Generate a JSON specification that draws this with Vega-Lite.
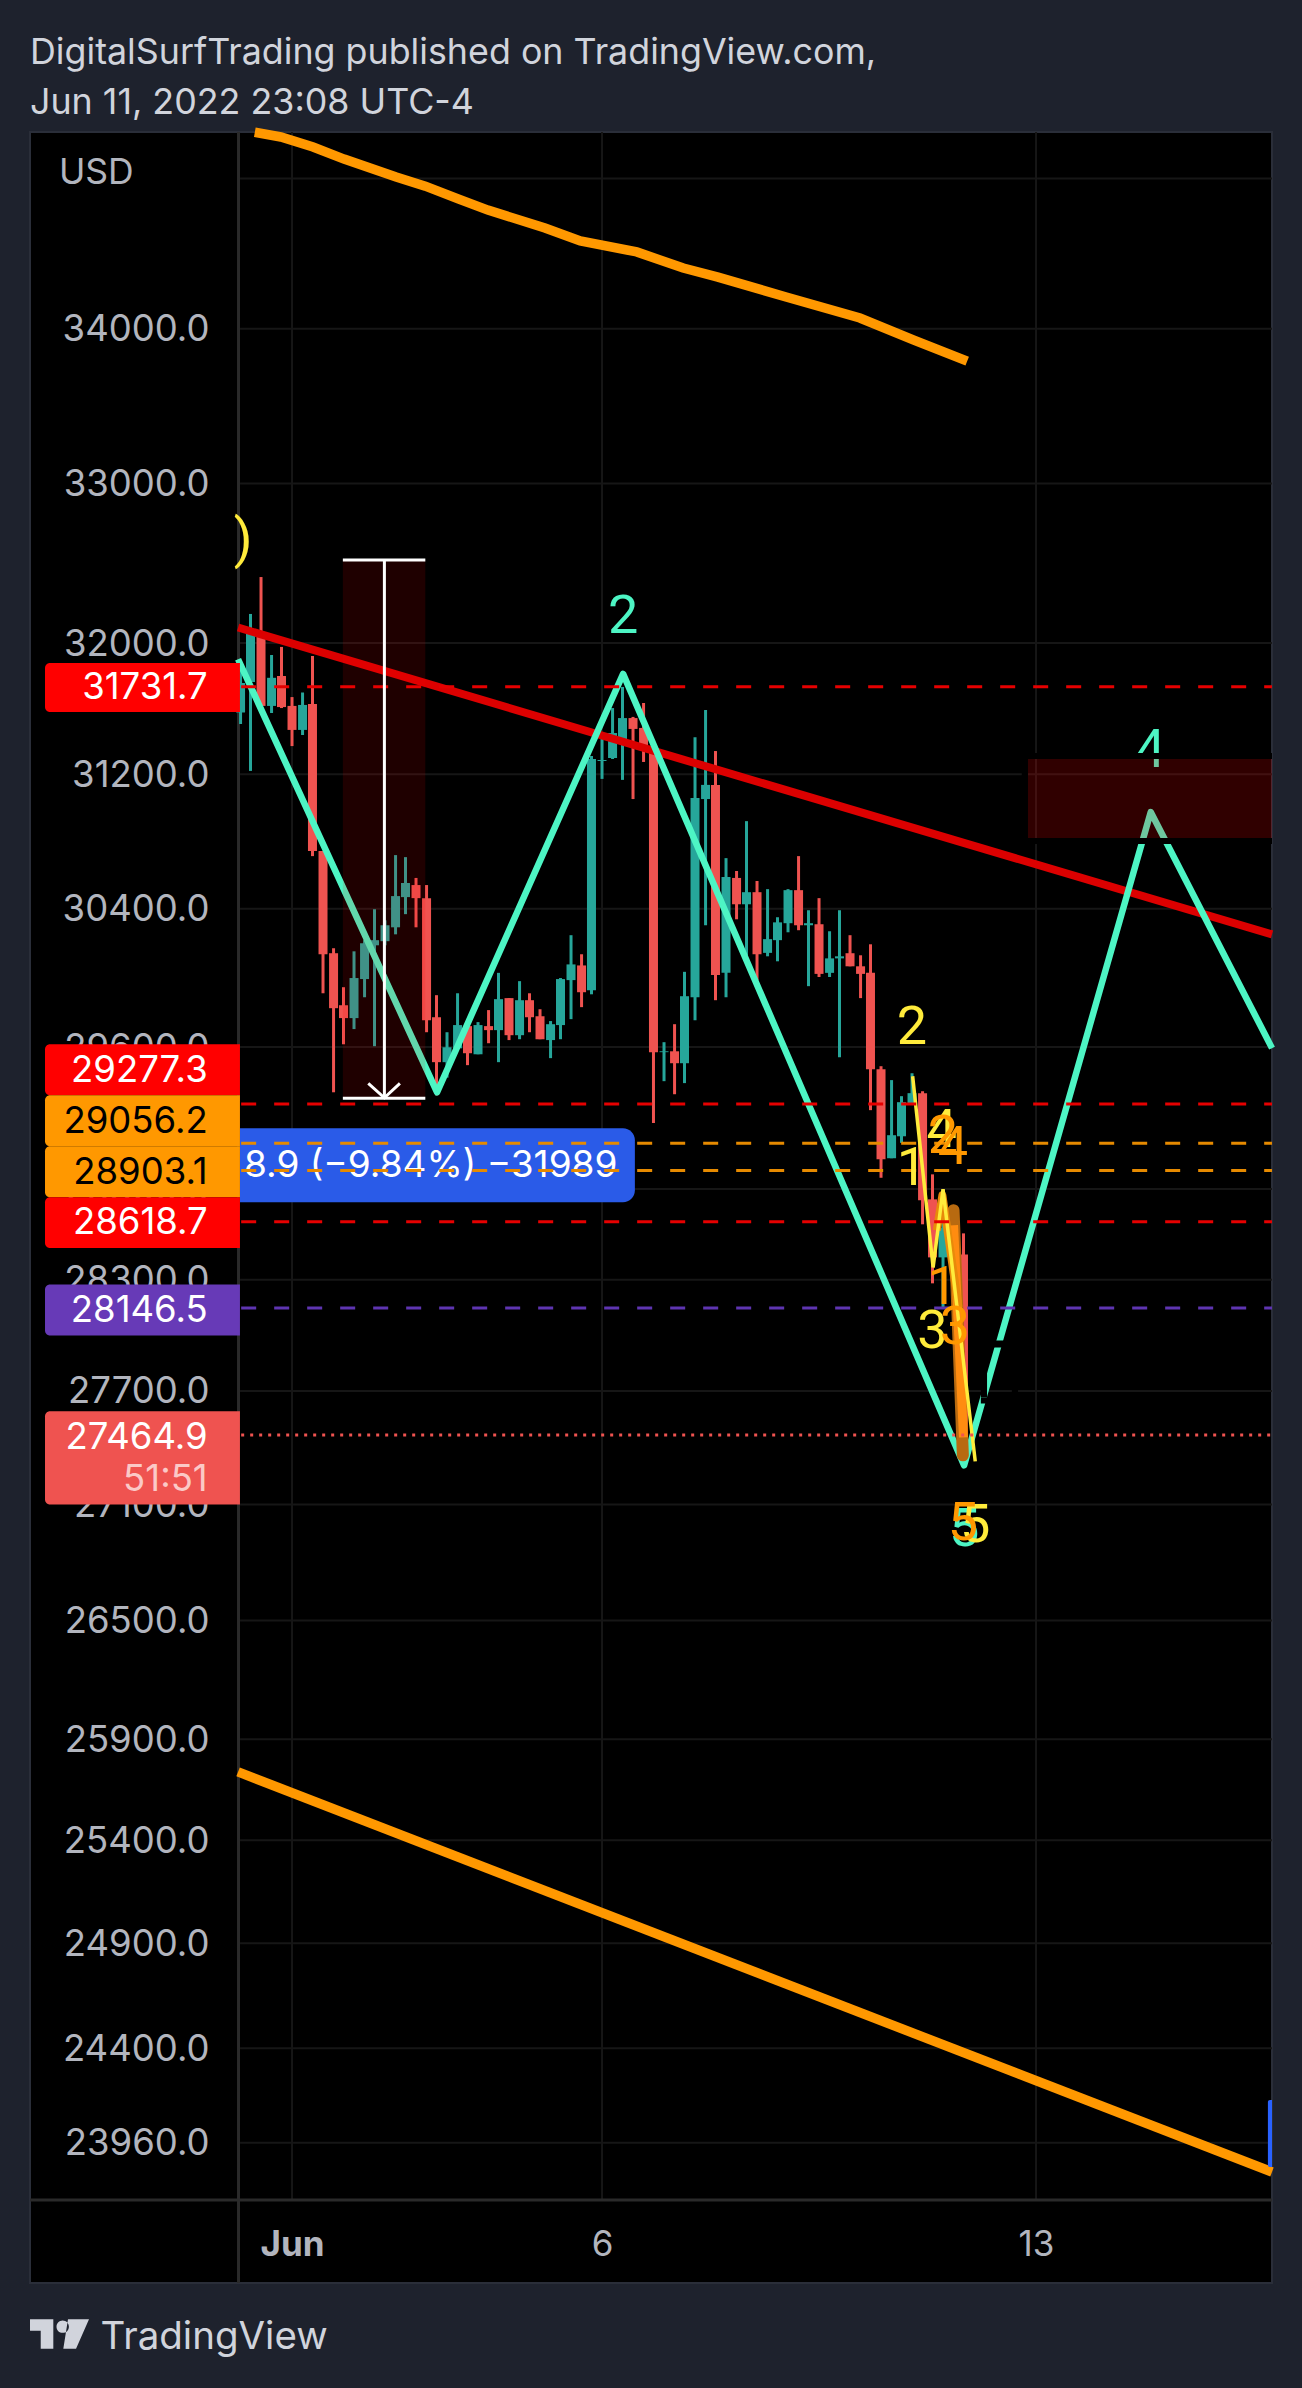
{
"$schema":"https://vega.github.io/schema/vega-lite/v6.json",
"description":"Bitcoin 4h candles with wave counts, published on TradingView.",
"width":1242,"height":2151,"autosize":"none",
"padding":{"left":30,"top":132,"right":30,"bottom":105},
"background":"#1e222d",
"view":{"fill":"#000000","stroke":"#2a2e39","strokeWidth":2},
"title":{"text":["DigitalSurfTrading published on TradingView.com,","Jun 11, 2022 23:08 UTC-4"],"anchor":"start","frame":"group","offset":-9,"fontSize":35.8,"lineHeight":50,"font":"Inter","fontWeight":400,"color":"#d1d4dc"},
"datasets":{
"gridY":[{"price":35000},{"price":34000},{"price":33000},{"price":32000},{"price":31200},{"price":30400},{"price":29600},{"price":28800},{"price":28300},{"price":27700},{"price":27100},{"price":26500},{"price":25900},{"price":25400},{"price":24900},{"price":24400},{"price":23960}],
"gridX":[{"day":1},{"day":6},{"day":13}],
"candles":[
{"day":0.17,"open":31574,"high":31877,"low":31504,"close":31754,"dir":"up"},
{"day":0.33,"open":31760,"high":32180,"low":31220,"close":32059,"dir":"up"},
{"day":0.5,"open":32045,"high":32410,"low":31614,"close":31614,"dir":"down"},
{"day":0.67,"open":31614,"high":31926,"low":31571,"close":31786,"dir":"up"},
{"day":0.83,"open":31797,"high":31976,"low":31601,"close":31607,"dir":"down"},
{"day":1.0,"open":31614,"high":31668,"low":31370,"close":31468,"dir":"down"},
{"day":1.17,"open":31468,"high":31696,"low":31437,"close":31620,"dir":"up"},
{"day":1.33,"open":31626,"high":31920,"low":30711,"close":30741,"dir":"down"},
{"day":1.5,"open":30741,"high":30741,"low":29909,"close":30135,"dir":"down"},
{"day":1.67,"open":30141,"high":30170,"low":29343,"close":29823,"dir":"down"},
{"day":1.83,"open":29840,"high":29944,"low":29616,"close":29766,"dir":"down"},
{"day":2.0,"open":29766,"high":30152,"low":29703,"close":29997,"dir":"up"},
{"day":2.17,"open":29991,"high":30217,"low":29886,"close":30199,"dir":"up"},
{"day":2.33,"open":30187,"high":30398,"low":29605,"close":30217,"dir":"up"},
{"day":2.5,"open":30211,"high":30333,"low":30187,"close":30304,"dir":"up"},
{"day":2.67,"open":30292,"high":30717,"low":30251,"close":30475,"dir":"up"},
{"day":2.83,"open":30469,"high":30705,"low":30369,"close":30552,"dir":"up"},
{"day":3.0,"open":30540,"high":30582,"low":30292,"close":30463,"dir":"down"},
{"day":3.17,"open":30463,"high":30540,"low":29685,"close":29754,"dir":"down"},
{"day":3.33,"open":29771,"high":29898,"low":29326,"close":29514,"dir":"down"},
{"day":3.5,"open":29514,"high":29685,"low":29426,"close":29599,"dir":"up"},
{"day":3.67,"open":29593,"high":29909,"low":29593,"close":29726,"dir":"up"},
{"day":3.83,"open":29720,"high":29720,"low":29497,"close":29565,"dir":"down"},
{"day":4.0,"open":29559,"high":29743,"low":29559,"close":29726,"dir":"up"},
{"day":4.17,"open":29720,"high":29812,"low":29622,"close":29697,"dir":"down"},
{"day":4.33,"open":29697,"high":30027,"low":29514,"close":29875,"dir":"up"},
{"day":4.5,"open":29881,"high":29881,"low":29640,"close":29668,"dir":"down"},
{"day":4.67,"open":29668,"high":29979,"low":29645,"close":29869,"dir":"up"},
{"day":4.83,"open":29869,"high":29909,"low":29685,"close":29771,"dir":"down"},
{"day":5.0,"open":29777,"high":29817,"low":29645,"close":29645,"dir":"down"},
{"day":5.17,"open":29640,"high":29749,"low":29537,"close":29731,"dir":"up"},
{"day":5.33,"open":29726,"high":29997,"low":29645,"close":29991,"dir":"up"},
{"day":5.5,"open":29985,"high":30246,"low":29760,"close":30076,"dir":"up"},
{"day":5.67,"open":30070,"high":30135,"low":29829,"close":29915,"dir":"down"},
{"day":5.83,"open":29927,"high":31310,"low":29903,"close":31292,"dir":"up"},
{"day":6.0,"open":31280,"high":31430,"low":31172,"close":31286,"dir":"up"},
{"day":6.17,"open":31298,"high":31601,"low":31292,"close":31449,"dir":"up"},
{"day":6.33,"open":31388,"high":31730,"low":31166,"close":31540,"dir":"up"},
{"day":6.5,"open":31540,"high":31547,"low":31051,"close":31474,"dir":"down"},
{"day":6.67,"open":31480,"high":31632,"low":31274,"close":31346,"dir":"down"},
{"day":6.83,"open":31346,"high":31358,"low":29170,"close":29571,"dir":"down"},
{"day":7.0,"open":29571,"high":29628,"low":29406,"close":29576,"dir":"up"},
{"day":7.17,"open":29576,"high":29731,"low":29332,"close":29508,"dir":"down"},
{"day":7.33,"open":29508,"high":30033,"low":29395,"close":29892,"dir":"up"},
{"day":7.5,"open":29886,"high":31424,"low":29754,"close":31057,"dir":"up"},
{"day":7.67,"open":31051,"high":31589,"low":30304,"close":31136,"dir":"up"},
{"day":7.83,"open":31136,"high":31340,"low":29869,"close":30015,"dir":"down"},
{"day":8.0,"open":30027,"high":30699,"low":29886,"close":30588,"dir":"up"},
{"day":8.17,"open":30582,"high":30623,"low":30339,"close":30427,"dir":"down"},
{"day":8.33,"open":30427,"high":30919,"low":30129,"close":30498,"dir":"up"},
{"day":8.5,"open":30498,"high":30564,"low":29985,"close":30135,"dir":"down"},
{"day":8.67,"open":30143,"high":30516,"low":30123,"close":30223,"dir":"up"},
{"day":8.83,"open":30217,"high":30351,"low":30094,"close":30321,"dir":"up"},
{"day":9.0,"open":30316,"high":30516,"low":30263,"close":30510,"dir":"up"},
{"day":9.17,"open":30510,"high":30711,"low":30275,"close":30304,"dir":"down"},
{"day":9.33,"open":30304,"high":30392,"low":29950,"close":30316,"dir":"up"},
{"day":9.5,"open":30310,"high":30463,"low":30003,"close":30021,"dir":"down"},
{"day":9.67,"open":30027,"high":30269,"low":30003,"close":30111,"dir":"up"},
{"day":9.83,"open":30111,"high":30392,"low":29542,"close":30123,"dir":"up"},
{"day":10.0,"open":30141,"high":30246,"low":30065,"close":30065,"dir":"down"},
{"day":10.17,"open":30065,"high":30129,"low":29881,"close":30021,"dir":"down"},
{"day":10.33,"open":30027,"high":30193,"low":29242,"close":29474,"dir":"down"},
{"day":10.5,"open":29474,"high":29491,"low":28863,"close":28966,"dir":"down"},
{"day":10.67,"open":28972,"high":29412,"low":28972,"close":29101,"dir":"up"},
{"day":10.83,"open":29095,"high":29321,"low":29058,"close":29287,"dir":"up"},
{"day":11.0,"open":29281,"high":29451,"low":29281,"close":29338,"dir":"up"},
{"day":11.17,"open":29338,"high":29349,"low":28605,"close":28738,"dir":"down"},
{"day":11.33,"open":28743,"high":28882,"low":28281,"close":28423,"dir":"down"},
{"day":11.5,"open":28423,"high":28799,"low":28145,"close":28584,"dir":"up"},
{"day":11.67,"open":28699,"high":28699,"low":28254,"close":28423,"dir":"down"},
{"day":11.83,"open":28439,"high":28555,"low":27331,"close":27464.9,"dir":"down"}
],
"levels":[{"price":31731.7,"kind":"red"},{"price":29277.3,"kind":"red"},{"price":29056.2,"kind":"orange"},{"price":28903.1,"kind":"orange"},{"price":28618.7,"kind":"red"},{"price":28146.5,"kind":"purple"}],
"tags":[
{"label":"31731.7","center":31725,"top":31877,"bottom":31577,"kind":"red"},
{"label":"29277.3","center":29465,"top":29616,"bottom":29326,"kind":"red"},
{"label":"29056.2","center":29176,"top":29326,"bottom":29039,"kind":"orange"},
{"label":"28903.1","center":28890,"top":29039,"bottom":28755,"kind":"orange"},
{"label":"28618.7","center":28610,"top":28755,"bottom":28475,"kind":"red"},
{"label":"28146.5","center":28130,"top":28275,"bottom":27998,"kind":"purple"},
{"label":"27464.9","center":27452,"top":27591,"bottom":27100,"kind":"last"},
{"label":"51:51","center":27228,"top":27591,"bottom":27100,"kind":"countdown"}
],
"waves":[
{"day":6.34,"price":32160,"label":"2","wave":"teal"},
{"day":14.84,"price":31340,"label":"4","wave":"teal"},
{"day":11.84,"price":26968,"label":"5","wave":"teal"},
{"day":0.21,"price":32636,"label":")","wave":"yellow"},
{"day":11.0,"price":29708,"label":"2","wave":"yellow"},
{"day":11.0,"price":28910,"label":"1","wave":"yellow"},
{"day":11.48,"price":29125,"label":"4","wave":"yellow"},
{"day":11.33,"price":28019,"label":"3","wave":"yellow"},
{"day":12.02,"price":26990,"label":"5","wave":"yellow"},
{"day":11.5,"price":29089,"label":"2","wave":"orange"},
{"day":11.66,"price":29027,"label":"4","wave":"orange"},
{"day":11.49,"price":28254,"label":"1","wave":"orange"},
{"day":11.69,"price":28040,"label":"3","wave":"orange"},
{"day":11.82,"price":27000,"label":"5","wave":"orange"}
],
"masks":[
{"d1":12.77,"d2":16.806,"p1":31328,"p2":31292},
{"d1":12.77,"d2":16.806,"p1":30819,"p2":30783},
{"d1":12.77,"d2":12.87,"p1":31328,"p2":30783},
{"d1":12.11,"d2":12.71,"p1":27971,"p2":27933},
{"d1":12.11,"d2":12.21,"p1":27971,"p2":27665},
{"d1":12.11,"d2":12.71,"p1":27665,"p2":27633},
{"d1":12.61,"d2":12.71,"p1":27971,"p2":27633}
]
},
"encoding":{
"x":{"type":"quantitative","scale":{"type":"linear","domain":[-3.226,16.806],"nice":false,"zero":false,"padding":0},
"axis":{"orient":"bottom","values":[1,6,13],"labelExpr":"datum.value==1?'Jun':datum.value","domain":false,"ticks":false,"grid":false,"labelFont":"Inter","labelFontSize":35,"labelColor":"#b2b5be","labelPadding":-39,"labelBaseline":"middle","labelFontWeight":{"condition":{"test":"datum.value==1","value":"bold"},"value":"normal"},"labelOverlap":false,"title":"TradingView","titleX":70,"titleY":65,"titleAlign":"left","titleAnchor":"start","titleBaseline":"alphabetic","titleFont":"Inter","titleFontSize":38.5,"titleFontWeight":400,"titleColor":"#d1d4dc"}},
"y":{"type":"quantitative","scale":{"type":"log","domain":[23320,35316],"nice":false},
"axis":{"orient":"left","values":[34000,33000,32000,31200,30400,29600,28800,28300,27700,27100,26500,25900,25400,24900,24400,23960],"format":".1f","title":null,"domain":false,"ticks":false,"grid":false,"labelFont":"Inter","labelFontSize":36.5,"labelColor":"#b2b5be","labelPadding":-179,"labelOffset":1,"labelAlign":"right","labelBaseline":"middle","labelOverlap":false,"labelBound":false,"labelFlush":false}}
},
"layer":[
{"data":{"name":"gridY"},"mark":{"type":"rule","color":"#161616","strokeWidth":2},
"encoding":{"x":{"datum":0.16},"x2":{"datum":16.806},"y":{"field":"price"}}},
{"data":{"name":"gridX"},"mark":{"type":"rule","color":"#161616","strokeWidth":2},
"encoding":{"x":{"field":"day"},"y":{"datum":23697},"y2":{"datum":35316}}},
{"data":{"values":[{"pos":0.137}]},"mark":{"type":"rule","color":"#2a2a2a","strokeWidth":3},
"encoding":{"x":{"field":"pos"},"y":{"datum":23320},"y2":{"datum":35316}}},
{"data":{"values":[{"pos":23697}]},"mark":{"type":"rule","color":"#2a2a2a","strokeWidth":3},
"encoding":{"y":{"field":"pos"},"x":{"datum":-3.226},"x2":{"datum":16.806}}},
{"data":{"name":"candles"},"mark":{"type":"rule","strokeWidth":3},
"encoding":{"x":{"field":"day"},"y":{"field":"high"},"y2":{"field":"low"},
"color":{"field":"dir","type":"nominal","legend":null,"scale":{"domain":["up","down"],"range":["#26a69a","#ef5350"]}}}},
{"data":{"name":"candles"},"mark":{"type":"bar","size":9,"orient":"vertical"},
"encoding":{"x":{"field":"day"},"y":{"field":"open"},"y2":{"field":"close"},
"color":{"field":"dir","type":"nominal","legend":null,"scale":{"domain":["up","down"],"range":["#26a69a","#ef5350"]}}}},
{"data":{"values":[{"d1":0.16,"d2":6.53,"top":29140,"bottom":28727}]},"mark":{"type":"rect","fill":"#2a5be8","cornerRadiusTopRight":12,"cornerRadiusBottomRight":12},
"encoding":{"x":{"field":"d1"},"x2":{"field":"d2"},"y":{"field":"top"},"y2":{"field":"bottom"}}},
{"data":{"values":[{"day":0.226,"price":28927,"label":"8.9 (−9.84%) −31989"}]},"mark":{"type":"text","align":"left","baseline":"middle","font":"Inter","fontSize":37,"fill":"#ffffff"},
"encoding":{"x":{"field":"day"},"y":{"field":"price"},"text":{"field":"label","type":"nominal"}}},
{"data":{"values":[{"day":0.13,"price":32096},{"day":16.806,"price":30251}]},"mark":{"type":"line","color":"#dc0000","strokeWidth":8},
"encoding":{"x":{"field":"day"},"y":{"field":"price"}}},
{"data":{"values":[{"day":0.13,"price":31900},{"day":3.34,"price":29343},{"day":6.34,"price":31810},{"day":11.84,"price":27305},{"day":14.85,"price":30973},{"day":16.806,"price":29594}]},"mark":{"type":"line","color":"#4df5c4","strokeWidth":6.5,"strokeJoin":"round"},
"encoding":{"x":{"field":"day"},"y":{"field":"price"}}},
{"data":{"values":[{"day":0.4,"price":35314},{"day":0.82,"price":35282},{"day":1.34,"price":35214},{"day":1.84,"price":35132},{"day":2.68,"price":35010},{"day":3.15,"price":34949},{"day":3.69,"price":34862},{"day":4.16,"price":34788},{"day":5.08,"price":34668},{"day":5.65,"price":34581},{"day":6.56,"price":34508},{"day":7.31,"price":34401},{"day":7.87,"price":34341},{"day":8.97,"price":34209},{"day":10.16,"price":34071},{"day":11.03,"price":33926},{"day":11.89,"price":33789}]},"mark":{"type":"line","color":"#ff9800","strokeWidth":9.5},
"encoding":{"x":{"field":"day"},"y":{"field":"price"}}},
{"data":{"values":[{"day":0.13,"price":25737},{"day":16.806,"price":23825}]},"mark":{"type":"line","color":"#ff9800","strokeWidth":9.5},
"encoding":{"x":{"field":"day"},"y":{"field":"price"}}},
{"data":{"values":[{"day":11.67,"price":28683},{"day":11.82,"price":27358}]},"mark":{"type":"line","color":"#b86a10","strokeWidth":12,"strokeCap":"round"},
"encoding":{"x":{"field":"day"},"y":{"field":"price"}}},
{"data":{"values":[{"day":11.67,"price":28600},{"day":11.83,"price":27453}]},"mark":{"type":"line","color":"#ff8c10","strokeWidth":9},
"encoding":{"x":{"field":"day"},"y":{"field":"price"}}},
{"data":{"values":[{"day":11.4,"price":28572},{"day":11.49,"price":28766},{"day":11.75,"price":28150}]},"mark":{"type":"line","color":"#e88a0a","strokeWidth":8,"strokeJoin":"round"},
"encoding":{"x":{"field":"day"},"y":{"field":"price"}}},
{"data":{"values":[{"day":11.01,"price":29434},{"day":11.34,"price":28368},{"day":11.5,"price":28799},{"day":12.02,"price":27326}]},"mark":{"type":"line","color":"#ffeb3b","strokeWidth":3.5},
"encoding":{"x":{"field":"day"},"y":{"field":"price"}}},
{"data":{"name":"levels"},"mark":{"type":"rule","strokeWidth":3,"strokeDash":[15,18]},
"encoding":{"x":{"datum":0.18},"x2":{"datum":16.806},"y":{"field":"price"},
"color":{"field":"kind","type":"nominal","legend":null,"scale":{"domain":["red","orange","purple"],"range":["#e60000","#e68a00","#5e35b1"]}}}},
{"data":{"values":[{"price":27464.9}]},"mark":{"type":"rule","strokeWidth":3,"strokeDash":[3,6],"color":"#ef5350"},
"encoding":{"x":{"datum":0.18},"x2":{"datum":16.806},"y":{"field":"price"}}},
{"data":{"name":"waves"},"mark":{"type":"text","align":"center","baseline":"middle","font":"Roboto","fontWeight":400,"fontSize":54},
"encoding":{"x":{"field":"day"},"y":{"field":"price"},"text":{"field":"label","type":"nominal"},
"color":{"field":"wave","type":"nominal","legend":null,"scale":{"domain":["teal","yellow","orange"],"range":["#4df5c4","#ffeb3b","#ff9800"]}}}},
{"data":{"name":"masks"},"mark":{"type":"rect","fill":"#000000"},
"encoding":{"x":{"field":"d1"},"x2":{"field":"d2"},"y":{"field":"p1"},"y2":{"field":"p2"}}},
{"data":{"values":[{"d1":12.87,"d2":16.806,"p1":31292,"p2":30819,"zone":"supply"}]},"mark":{"type":"rect","fill":"#ff0000","opacity":0.19},
"encoding":{"x":{"field":"d1"},"x2":{"field":"d2"},"y":{"field":"p1"},"y2":{"field":"p2"}}},
{"data":{"values":[{"d1":1.82,"d2":3.15,"p1":32516,"p2":29309,"zone":"measure"}]},"mark":{"type":"rect","fill":"#ff0000","opacity":0.12},
"encoding":{"x":{"field":"d1"},"x2":{"field":"d2"},"y":{"field":"p1"},"y2":{"field":"p2"}}},
{"data":{"values":[{"price":32516},{"price":29309}]},"mark":{"type":"rule","color":"#ffffff","strokeWidth":3},
"encoding":{"x":{"datum":1.82},"x2":{"datum":3.15},"y":{"field":"price"}}},
{"data":{"values":[{"day":2.49,"p1":32516,"p2":29309}]},"mark":{"type":"rule","color":"#ffffff","strokeWidth":3},
"encoding":{"x":{"field":"day"},"y":{"field":"p1"},"y2":{"field":"p2"}}},
{"data":{"values":[{"day":2.23,"price":29393},{"day":2.49,"price":29312},{"day":2.74,"price":29393}]},"mark":{"type":"line","color":"#ffffff","strokeWidth":3},
"encoding":{"x":{"field":"day"},"y":{"field":"price"}}},
{"data":{"values":[{"d1":16.74,"d2":16.806,"p1":24158,"p2":23848}]},"mark":{"type":"rect","fill":"#2962ff","cornerRadiusTopLeft":6,"cornerRadiusBottomLeft":6},
"encoding":{"x":{"field":"d1"},"x2":{"field":"d2"},"y":{"field":"p1"},"y2":{"field":"p2"}}},
{"data":{"name":"tags"},"transform":[{"filter":"datum.kind!='countdown'"}],"mark":{"type":"rect","cornerRadiusTopLeft":5,"cornerRadiusBottomLeft":5},
"encoding":{"x":{"datum":-2.984},"x2":{"datum":0.16},"y":{"field":"top"},"y2":{"field":"bottom"},
"color":{"field":"kind","type":"nominal","legend":null,"scale":{"domain":["red","orange","purple","last"],"range":["#ff0000","#ff9800","#673ab7","#ef5350"]}}}},
{"data":{"name":"tags"},"mark":{"type":"text","align":"right","baseline":"middle","font":"Inter","fontSize":36.5},
"encoding":{"x":{"datum":-0.36},"y":{"field":"center"},"text":{"field":"label","type":"nominal"},
"color":{"field":"kind","type":"nominal","legend":null,"scale":{"domain":["red","orange","purple","last","countdown"],"range":["#ffffff","#000000","#ffffff","#ffffff","#fbc9c7"]}}}},
{"data":{"values":[{"day":-2.76,"price":35037,"label":"USD"}]},"mark":{"type":"text","align":"left","baseline":"middle","font":"Inter","fontSize":35.5,"fill":"#b2b5be"},
"encoding":{"x":{"field":"day"},"y":{"field":"price"},"text":{"field":"label","type":"nominal"}}},
{"data":{"values":[{"day":-2.75,"price":23092,"name":"TradingView logo"}]},"mark":{"type":"point","filled":true,"fill":"#d1d4dc","opacity":1,"size":3481,"shape":"M-1 -.5H-.21V.5H-.637V-.11H-1Z M-.102 -.247a.21 .21 0 1 0 .42 0a.21 .21 0 1 0 -.42 0Z M.288 -.5H1L.56 .5H.129Z"},
"encoding":{"x":{"field":"day"},"y":{"field":"price"}}}
],
"resolve":{"scale":{"color":"independent"}}
}
